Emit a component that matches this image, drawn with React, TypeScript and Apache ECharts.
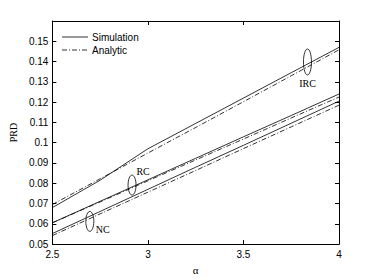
import React, { useEffect, useRef } from "react";
import * as echarts from "echarts";

const alphas = [2.5, 2.75, 3, 3.25, 3.5, 3.75, 4];
const ircSim = [0.068, 0.0815, 0.097, 0.1095, 0.122, 0.1345, 0.147];
const ircAna = [0.0695, 0.0822, 0.0949, 0.1075, 0.1202, 0.133, 0.1458];
const rcSim = [0.0605, 0.0711, 0.0817, 0.0923, 0.1029, 0.1134, 0.124];
const rcAna = [0.0605, 0.0708, 0.0812, 0.0915, 0.1018, 0.1122, 0.1225];
const ncSim = [0.0552, 0.0661, 0.077, 0.0879, 0.0987, 0.1096, 0.1205];
const ncAna = [0.0542, 0.0649, 0.0756, 0.0863, 0.0971, 0.1078, 0.1185];

const xTicks = [2.5, 3, 3.5, 4];
const yTickLabels = [0.05, 0.06, 0.07, 0.08, 0.09, 0.1, 0.11, 0.12, 0.13, 0.14, 0.15];
const legendNames = ["Simulation", "Analytic"];

// annotation anchors in data coordinates: [label, alpha, PRD, ellipse ry px, label dx, label dy]
const annotations: [string, number, number, number, number, number][] = [
  ["IRC", 3.835, 0.1398, 13, 0, 22],
  ["RC", 2.917, 0.0791, 10, 11, -14],
  ["NC", 2.696, 0.0612, 10, 13, 8],
];

const SANS = "'Liberation Sans', Arial, sans-serif";
const SERIF = "'Liberation Serif', 'DejaVu Serif', serif";
const dashDot = [5, 2, 1, 2];

export default function App() {
  const ref = useRef<HTMLDivElement>(null);
  useEffect(() => {
    if (!ref.current) return;
    const chart = echarts.init(ref.current, undefined, { renderer: "svg" });
    const mk = (name: string, vals: number[], dashed: boolean) => ({
      type: "line",
      name,
      data: alphas.map((a, i) => [a, vals[i]]),
      showSymbol: false,
      symbol: "none",
      xAxisIndex: 0,
      yAxisIndex: 0,
      lineStyle: { color: "#000", width: 0.8, type: dashed ? dashDot : "solid" },
      itemStyle: { color: "#000" },
      silent: true,
    });
    const axisCommon = {
      axisLine: { show: true, onZero: false, lineStyle: { color: "#000", width: 1 } },
      axisTick: { show: true, inside: true, length: 4, lineStyle: { color: "#000", width: 1 } },
      splitLine: { show: false },
    };
    chart.setOption({
      animation: false,
      backgroundColor: "#fff",
      grid: { left: 48, right: 35, top: 21, bottom: 32, containLabel: false },
      xAxis: [
        {
          type: "value",
          min: 2.5,
          max: 4,
          interval: 0.5,
          name: "α",
          nameLocation: "middle",
          nameGap: 17,
          nameTextStyle: { fontFamily: SERIF, fontSize: 11, color: "#000" },
          axisLabel: {
            fontFamily: SANS,
            fontSize: 10,
            color: "#000",
            margin: 5,
            formatter: (v: number) => (xTicks.includes(v) ? String(v) : ""),
          },
          ...axisCommon,
        },
        {
          type: "value",
          position: "top",
          min: 2.5,
          max: 4,
          interval: 0.5,
          axisLabel: { show: false },
          ...axisCommon,
        },
      ],
      yAxis: [
        {
          type: "value",
          min: 0.05,
          max: 0.16,
          interval: 0.01,
          name: "PRD",
          nameLocation: "middle",
          nameGap: 26,
          nameTextStyle: { fontFamily: SERIF, fontSize: 10, color: "#000" },
          axisLabel: {
            fontFamily: SANS,
            fontSize: 10,
            color: "#000",
            margin: 4,
            formatter: (v: number) => {
              const r = Math.round(v * 100) / 100;
              return yTickLabels.some((t) => Math.abs(t - r) < 1e-9) ? String(r) : "";
            },
          },
          ...axisCommon,
        },
        {
          type: "value",
          position: "right",
          min: 0.05,
          max: 0.16,
          interval: 0.01,
          axisLabel: { show: false },
          ...axisCommon,
        },
      ],
      series: [
        mk(legendNames[0], ircSim, false),
        mk(legendNames[1], ircAna, true),
        mk(legendNames[0], rcSim, false),
        mk(legendNames[1], rcAna, true),
        mk(legendNames[0], ncSim, false),
        mk(legendNames[1], ncAna, true),
      ],
    });
    const elements: any[] = [];
    legendNames.forEach((n, i) => {
      const y = 37 + i * 13;
      elements.push({
        type: "line",
        shape: { x1: 62, y1: y, x2: 88, y2: y },
        style: { stroke: "#000", lineWidth: 0.8, lineDash: i === 1 ? dashDot : null },
        silent: true,
      });
      elements.push({
        type: "text",
        x: 92,
        y,
        style: { text: n, fontFamily: SANS, fontSize: 10, fill: "#000", verticalAlign: "middle" },
        silent: true,
      });
    });
    annotations.forEach(([label, a, v, ry, dx, dy]) => {
      const p = chart.convertToPixel({ seriesIndex: 0 }, [a, v]) as number[];
      elements.push({
        type: "ellipse",
        shape: { cx: p[0], cy: p[1], rx: 4, ry },
        style: { fill: "none", stroke: "#000", lineWidth: 0.8 },
        silent: true,
      });
      elements.push({
        type: "text",
        x: p[0] + dx,
        y: p[1] + dy,
        style: {
          text: label,
          fontFamily: SERIF,
          fontSize: 10,
          fill: "#000",
          align: "center",
          verticalAlign: "middle",
        },
        silent: true,
      });
    });
    chart.setOption({ graphic: { elements } });
    return () => chart.dispose();
  }, []);
  return (
    <div
      ref={ref}
      style={{ position: "absolute", left: 0, top: 0, width: 374, height: 280 }}
    />
  );
}
